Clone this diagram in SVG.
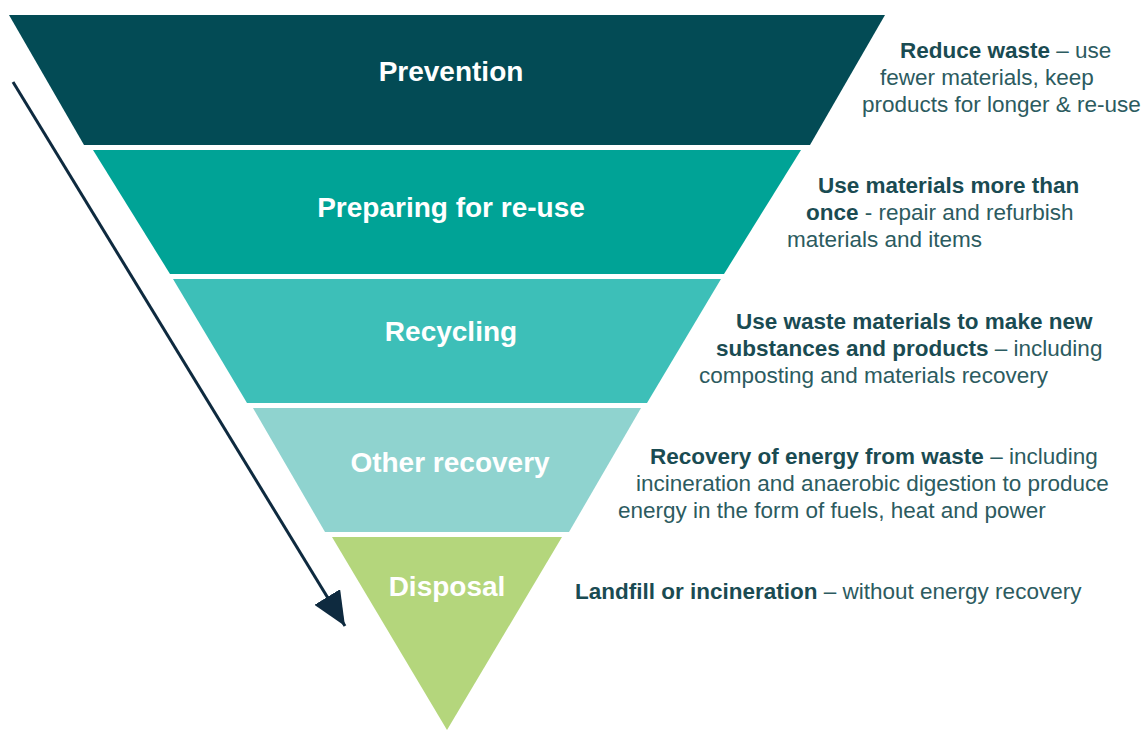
<svg xmlns="http://www.w3.org/2000/svg" width="1144" height="731" viewBox="0 0 1144 731">
<style>
.lbl{font-family:"Liberation Sans",Arial,sans-serif;font-size:28px;font-weight:bold;fill:#ffffff;text-anchor:middle}
.desc{font-family:"Liberation Sans",Arial,sans-serif;font-size:22.5px;fill:#2c5b60}
.b{font-weight:bold;fill:#1a4b52}
</style>
<defs>
<marker id="ah" markerWidth="34" markerHeight="30" refX="34" refY="15" orient="auto" markerUnits="userSpaceOnUse">
<path d="M0,0 L34,15 L0,30 z" fill="#0e2a3f"/>
</marker>
</defs>
<rect width="1144" height="731" fill="#ffffff"/>
<g id="prevention">
<polygon points="9,15 885,15 810,145 84,145" fill="#034b55"/>
<text class="lbl" x="451" y="81">Prevention</text>
</g>
<g id="preparing">
<polygon points="93,150 801,150 724,274 170,274" fill="#00a396"/>
<text class="lbl" x="451" y="217">Preparing for re-use</text>
</g>
<g id="recycling">
<polygon points="173,279 721,279 647,403 247,403" fill="#3dbfb8"/>
<text class="lbl" x="451" y="341">Recycling</text>
</g>
<g id="other-recovery">
<polygon points="253,408 641,408 569,532 325,532" fill="#8fd3cf"/>
<text class="lbl" x="450" y="472">Other recovery</text>
</g>
<g id="disposal">
<polygon points="332,537 562,537 447,730" fill="#b4d67c"/>
<text class="lbl" x="447" y="596">Disposal</text>
</g>
<g id="connectors">
<line x1="13" y1="82" x2="345" y2="626" stroke="#0e2a3f" stroke-width="3" marker-end="url(#ah)"/>
</g>
<g id="desc-prevention" class="desc">
<text x="900" y="58"><tspan class="b">Reduce waste</tspan> – use</text>
<text x="880" y="85">fewer materials, keep</text>
<text x="862" y="112">products for longer &amp; re-use</text>
</g>
<g id="desc-preparing" class="desc">
<text x="818" y="193" class="b">Use materials more than</text>
<text x="806" y="220"><tspan class="b">once</tspan> - repair and refurbish</text>
<text x="787" y="247">materials and items</text>
</g>
<g id="desc-recycling" class="desc">
<text x="736" y="329" class="b">Use waste materials to make new</text>
<text x="716" y="356"><tspan class="b">substances and products</tspan> – including</text>
<text x="699" y="383">composting and materials recovery</text>
</g>
<g id="desc-other" class="desc">
<text x="650" y="464"><tspan class="b">Recovery of energy from waste</tspan> – including</text>
<text x="636" y="491">incineration and anaerobic digestion to produce</text>
<text x="618" y="518">energy in the form of fuels, heat and power</text>
</g>
<g id="desc-disposal" class="desc">
<text x="575" y="599"><tspan class="b">Landfill or incineration</tspan> – without energy recovery</text>
</g>
</svg>
